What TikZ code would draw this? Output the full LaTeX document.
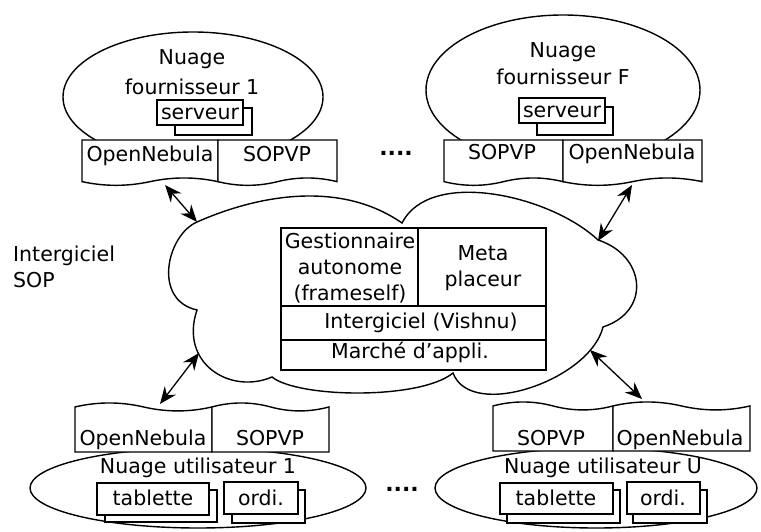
\documentclass[tikz,border=0pt]{standalone}
\usepackage{fontspec}
\setmainfont{DejaVu Sans}
\usetikzlibrary{arrows.meta,calc}
\tikzset{
  ln/.style={draw=black,line width=1.4pt},
  fillbox/.style={ln,fill=white},
  lbl/.style={inner sep=0pt,anchor=base,font=\fontsize{20.5}{24}\selectfont},
  lbll/.style={lbl,anchor=base west},
  dots/.style={inner sep=0pt,font=\fontsize{22}{24}\selectfont\bfseries},
  conn/.style={line width=1.3pt,{Stealth[length=17pt,width=14pt]}-{Stealth[length=17pt,width=14pt]}},
}
% document with wavy bottom: left, right, top, height
\newcommand\docdown[4]{%
  \pgfmathsetmacro\dA{#1}\pgfmathsetmacro\dB{#2}\pgfmathsetmacro\dT{#3}\pgfmathsetmacro\dH{#4}%
  \pgfmathsetmacro\dW{\dB-\dA}%
  \draw[fillbox] (\dA,\dT) -- (\dB,\dT) -- ({\dB},{\dT+0.85*\dH})
    .. controls ({\dB-\dW/6},{\dT+0.75*\dH}) and ({\dA+2*\dW/3},{\dT+0.75*\dH}) .. ({\dA+\dW/2},{\dT+0.85*\dH})
    .. controls ({\dA+\dW/3},{\dT+0.95*\dH}) and ({\dA+\dW/6},{\dT+0.95*\dH}) .. ({\dA},{\dT+0.85*\dH}) -- cycle;}
% document with wavy top: left, right, bottom, height
\newcommand\docupw[4]{%
  \pgfmathsetmacro\dA{#1}\pgfmathsetmacro\dB{#2}\pgfmathsetmacro\dT{#3}\pgfmathsetmacro\dH{#4}%
  \pgfmathsetmacro\dW{\dB-\dA}%
  \draw[fillbox] (\dA,\dT) -- (\dB,\dT) -- ({\dB},{\dT-0.85*\dH})
    .. controls ({\dB-\dW/6},{\dT-0.75*\dH}) and ({\dA+2*\dW/3},{\dT-0.75*\dH}) .. ({\dA+\dW/2},{\dT-0.85*\dH})
    .. controls ({\dA+\dW/3},{\dT-0.95*\dH}) and ({\dA+\dW/6},{\dT-0.95*\dH}) .. ({\dA},{\dT-0.85*\dH}) -- cycle;}
\begin{document}
\begin{tikzpicture}[x=1pt,y=-1pt]
\useasboundingbox (0,0) rectangle (761,532);

% ---------- top left cloud ----------
\draw[fillbox] (193,97) ellipse [x radius=130, y radius=65];
\node[lbl] (tl1) at (192,65) {Nuage};
\node[lbl] (tl2) at (192,95) {fournisseur 1};
\draw[fillbox] (175,108) rectangle (252,135);
\draw[fillbox] (157,100) rectangle (243,125);
\node[lbl] (srv1) at (200,120) {serveur};
\docdown{82}{218}{140}{49}
\docdown{218}{337}{140}{49}
\node[lbl] (tlon) at (150,162) {OpenNebula};
\node[lbl] (tlsp) at (277,162) {SOPVP};

% ---------- top right cloud ----------
\draw[fillbox] (563,90) ellipse [x radius=137, y radius=75];
\node[lbl] (tr1) at (563,58) {Nuage};
\node[lbl] (tr2) at (563,85) {fournisseur F};
\draw[fillbox] (537,107) rectangle (613,135);
\draw[fillbox] (519,98) rectangle (605,123);
\node[lbl] (srv2) at (562,118) {serveur};
\docdown{444}{563}{140}{49}
\docdown{563}{702}{140}{49}
\node[lbl] (trsp) at (502,160) {SOPVP};
\node[lbl] (tron) at (632,160) {OpenNebula};

\node[dots] (dtop) at (396,153) {....};

% ---------- middle cloud ----------
\draw[fillbox] (197,222) .. controls (258,195) and (340,180) .. (402,223)
  .. controls (430,168) and (550,195) .. (598,240)
  .. controls (645,255) and (652,311) .. (603,327)
  .. controls (590,380) and (471,421) .. (453,373)
  .. controls (420,400) and (298,398) .. (272,377)
  .. controls (230,395) and (179,363) .. (197,310)
  .. controls (152,300) and (167,235) .. (197,222) -- cycle;
\node[lbll] (sop1) at (13,261) {Intergiciel};
\node[lbll] (sop2) at (13,287) {SOP};

\draw[ln] (281,228) rectangle (546,370);
\draw[ln] (418,228) -- (418,306);
\draw[ln] (281,306) -- (546,306);
\draw[ln] (281,340) -- (546,340);
\node[lbl] (g1) at (350,248) {Gestionnaire};
\node[lbl] (g2) at (350,274) {autonome};
\node[lbl] (g3) at (350,300) {(frameself)};
\node[lbl] (m1) at (483,260) {Meta};
\node[lbl] (m2) at (483,286) {placeur};
\node[lbl] (vish) at (421,328) {Intergiciel (Vishnu)};
\node[lbl] (mar) at (410,358) {Marché d'appli.};

% ---------- bottom left cloud ----------
\draw[fillbox] (198,488) ellipse [x radius=168, y radius=40];
\docupw{75}{212}{452}{53}
\docupw{212}{329}{452}{53}
\node[lbl] (blon) at (143,445) {OpenNebula};
\node[lbl] (blsp) at (270,445) {SOPVP};
\node[lbl] (bl1) at (198,473) {Nuage utilisateur 1};
\draw[fillbox] (105,490) rectangle (217,522);
\draw[fillbox] (97,483) rectangle (209,515);
\node[lbl] (tab1) at (153,505) {tablette};
\draw[fillbox] (232,490) rectangle (305,523);
\draw[fillbox] (224,482) rectangle (298,514);
\node[lbl] (ord1) at (261,505) {ordi.};

\node[dots] (dbot) at (402,489) {....};

% ---------- bottom right cloud ----------
\draw[fillbox] (596,488) ellipse [x radius=161, y radius=40];
\docupw{493}{613}{451}{53}
\docupw{613}{750}{451}{53}
\node[lbl] (brsp) at (551,445) {SOPVP};
\node[lbl] (bron) at (680,445) {OpenNebula};
\node[lbl] (br1) at (603,473) {Nuage utilisateur U};
\draw[fillbox] (507,490) rectangle (620,523);
\draw[fillbox] (500,483) rectangle (613,514);
\node[lbl] (tab2) at (556,505) {tablette};
\draw[fillbox] (633,490) rectangle (707,523);
\draw[fillbox] (627,482) rectangle (700,514);
\node[lbl] (ord2) at (663,505) {ordi.};

% ---------- connectors ----------
\coordinate (a1) at (165,185); \coordinate (a1c) at (197,222);
\coordinate (a2) at (632,185); \coordinate (a2c) at (598,241);
\coordinate (a3) at (160,404); \coordinate (a3c) at (199,353);
\coordinate (a4) at (642,399); \coordinate (a4c) at (590,350);
\draw[conn] (a1) -- (a1c);
\draw[conn] (a2) -- (a2c);
\draw[conn] (a3) -- (a3c);
\draw[conn] (a4) -- (a4c);
\end{tikzpicture}
\end{document}
